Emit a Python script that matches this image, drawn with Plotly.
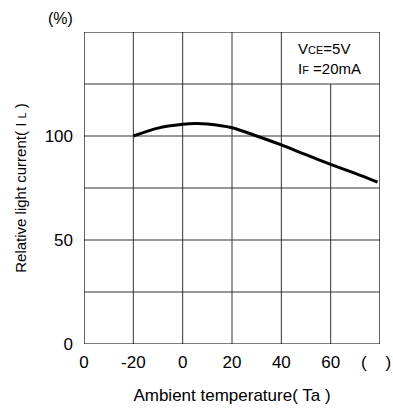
import plotly.graph_objects as go

# Data
temp = [-20, -10, 0, 5, 10, 20, 30, 40, 50, 60, 70, 79]
rel_current = [100, 103.8, 105.6, 106, 105.8, 104, 100, 95.7, 91, 86.4, 82, 77.8]

x_tick_vals = [-40, -20, 0, 20, 40, 60, 80]
x_tick_text = ["0", "-20", "0", "20", "40", "60", ""]
x_unit_text = "(\u00a0\u00a0\u00a0\u00a0)"
y_grid_vals = [0, 25, 50, 75, 100, 125, 150]
y_tick_vals = [0, 50, 100]
y_tick_text = ["0", "50", "100"]

SANS = "Liberation Sans, Arial"

fig = go.Figure()
fig.add_trace(go.Scatter(
    x=temp, y=rel_current, mode="lines",
    line=dict(color="black", width=3, shape="spline", smoothing=0.8),
    showlegend=False, hoverinfo="skip",
))

shapes = []
# vertical gridlines (60 line stops below the legend cell)
for v in x_tick_vals[1:-1]:
    top = 125 if v == 60 else 150
    shapes.append(dict(type="line", xref="x", yref="y", x0=v, x1=v, y0=0, y1=top,
                       line=dict(color="#333333", width=1), layer="below"))
for v in y_grid_vals[1:-1]:
    shapes.append(dict(type="line", xref="x", yref="y", x0=-40, x1=80, y0=v, y1=v,
                       line=dict(color="#333333", width=1), layer="below"))
shapes.append(dict(type="rect", xref="x", yref="y", x0=-40, x1=80, y0=0, y1=150,
                   line=dict(color="black", width=1.2)))

fig.update_layout(
    width=393, height=410,
    margin=dict(l=84, r=13, t=32, b=66, autoexpand=False),
    paper_bgcolor="white", plot_bgcolor="white",
    shapes=shapes,
    xaxis=dict(range=[-40, 80], tickvals=x_tick_vals, ticktext=x_tick_text,
               showgrid=False, zeroline=False, showline=False, ticks="",
               automargin=False,
               ticklabelstandoff=6,
               tickfont=dict(family=SANS, size=17, color="black"),
               title=dict(text="Ambient temperature( Ta )", standoff=18,
                          font=dict(family=SANS, size=17, color="black"))),
    yaxis=dict(range=[0, 150], tickvals=y_tick_vals, ticktext=y_tick_text,
               showgrid=False, zeroline=False, showline=False, ticks="",
               automargin=False,
               ticklabelstandoff=10,
               tickfont=dict(family=SANS, size=17, color="black"),
               title=dict(text="Relative light current( I <span style='font-size:11px'>L</span> )",
                          standoff=14,
                          font=dict(family=SANS, size=15, color="black"))),
    annotations=[
        dict(text="(%)", xref="paper", yref="paper", x=-0.08, y=1.0, yanchor="bottom",
             yshift=3, xanchor="center", showarrow=False,
             font=dict(family=SANS, size=16, color="black")),
        dict(text=x_unit_text, xref="paper", yref="paper", x=1.0, y=0,
             xanchor="center", yanchor="top", xshift=-4, yshift=-7,
             showarrow=False, font=dict(family=SANS, size=17, color="black")),
        dict(text="V<span style='font-size:11px'>CE</span>=5V<br>I<span style='font-size:11px'>F</span> =20mA",
             xref="x", yref="y", x=46, y=137.5, xanchor="left", yanchor="middle",
             showarrow=False, align="left",
             font=dict(family=SANS, size=15, color="black")),
    ],
)

fig.write_html("out.html")
